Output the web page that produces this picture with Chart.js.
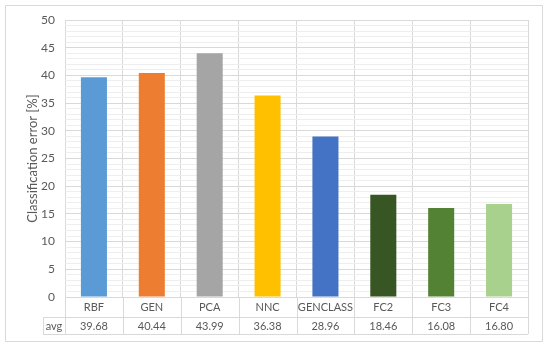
<!DOCTYPE html>
<html>
<head>
<meta charset="utf-8">
<script src="https://cdn.jsdelivr.net/npm/chart.js@4.4.1/dist/chart.umd.min.js"></script>
<style>
  html, body { margin: 0; padding: 0; background: #ffffff; }
  #wrap { width: 550px; height: 349px; }
</style>
</head>
<body>
<div id="wrap"><canvas id="chart" width="550" height="349"></canvas></div>
<script>
// chart data
const categories = ['RBF', 'GEN', 'PCA', 'NNC', 'GENCLASS', 'FC2', 'FC3', 'FC4'];
const avgValues = [39.68, 40.44, 43.99, 36.38, 28.96, 18.46, 16.08, 16.80];
const barColors = ['#5B9BD5', '#ED7D31', '#A5A5A5', '#FFC000', '#4472C4', '#375623', '#548235', '#A9D18E'];
const rowLabel = 'avg';

const FONT = "Lato, 'Open Sans', sans-serif";
const TEXT = '#595959';
const LINE = '#D9D9D9';

// draws the data table under the plot plus the outer frame
const tablePlugin = {
    id: 'dataTable',
    afterDraw(chart) {
        const ctx = chart.ctx;
        const x = chart.scales.x;
        const area = chart.chartArea;
        const rowTop = area.bottom;
        const rowMid = rowTop + 20;
        const rowBot = rowTop + 37;
        const cellLeft = 43;

        ctx.save();
        ctx.strokeStyle = LINE;
        ctx.lineWidth = 1;

        // horizontal table lines
        ctx.beginPath();
        ctx.moveTo(cellLeft, Math.round(rowMid) + 0.5);
        ctx.lineTo(area.right, Math.round(rowMid) + 0.5);
        ctx.moveTo(cellLeft, Math.round(rowBot) + 0.5);
        ctx.lineTo(area.right, Math.round(rowBot) + 0.5);
        // avg cell left edge
        ctx.moveTo(cellLeft + 0.5, Math.round(rowMid));
        ctx.lineTo(cellLeft + 0.5, Math.round(rowBot));
        // vertical lines down through the table
        const step = (area.right - area.left) / categories.length;
        for (let i = 0; i <= categories.length; i++) {
            const lx = Math.round(area.left + i * step) + 0.5;
            ctx.moveTo(lx, area.bottom);
            ctx.lineTo(lx, Math.round(rowBot));
        }
        ctx.stroke();

        // outer frame
        ctx.beginPath();
        ctx.rect(5.5, 5.5, 537, 336);
        ctx.stroke();

        // text
        ctx.fillStyle = TEXT;
        ctx.font = '11px ' + FONT;
        ctx.textAlign = 'center';
        ctx.textBaseline = 'middle';
        ctx.fillText(rowLabel, (cellLeft + area.left) / 2, (rowMid + rowBot) / 2 + 0.5);
        avgValues.forEach(function(v, i) {
            ctx.fillText(v.toFixed(2), x.getPixelForValue(i), (rowMid + rowBot) / 2 + 0.5);
        });
        ctx.restore();
    }
};

new Chart(document.getElementById('chart'), {
    type: 'bar',
    data: {
        labels: categories,
        datasets: [{
            label: 'avg',
            data: avgValues,
            backgroundColor: barColors,
            borderWidth: 0,
            categoryPercentage: 1.0,
            barPercentage: 0.45
        }]
    },
    options: {
        responsive: false,
        animation: false,
        devicePixelRatio: 1,
        layout: { padding: { left: 0, top: 20, right: 22, bottom: 0 } },
        plugins: {
            legend: { display: false },
            tooltip: { enabled: false }
        },
        scales: {
            x: {
                grid: { color: LINE, offset: true, drawTicks: false },
                border: { display: false },
                ticks: {
                    color: TEXT,
                    font: { family: FONT, size: 11 },
                    padding: 4,
                    maxRotation: 0,
                    autoSkip: false
                },
                afterFit(scale) { scale.height = 52; }
            },
            y: {
                min: 0,
                max: 50,
                border: { display: false },
                grid: {
                    drawTicks: false,
                    color: function(c) {
                        return c.tick && c.tick.value % 5 === 0 ? LINE : '#EEEEEE';
                    }
                },
                ticks: {
                    stepSize: 1,
                    maxTicksLimit: 100,
                    autoSkip: false,
                    padding: 10,
                    color: TEXT,
                    font: { family: FONT, size: 12 },
                    callback: function(v) { return v % 5 === 0 ? v : ''; }
                },
                title: {
                    display: true,
                    text: 'Classification error [%]',
                    color: TEXT,
                    font: { family: FONT, size: 13 },
                    padding: { top: 25, bottom: 0 }
                },
                afterFit(scale) { scale.width = 65; }
            }
        }
    },
    plugins: [tablePlugin]
});
</script>
</body>
</html>
